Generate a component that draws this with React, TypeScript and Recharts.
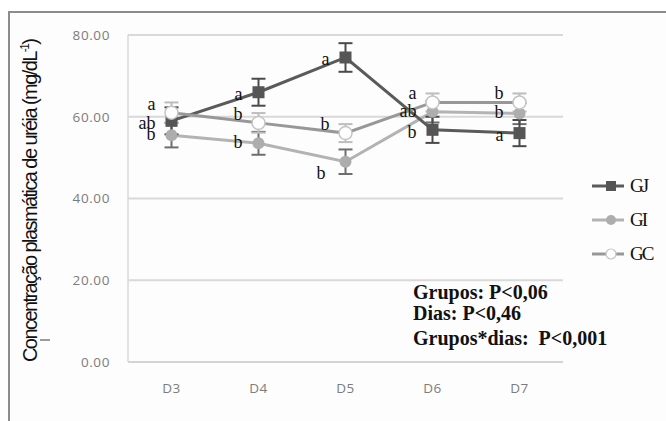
import React from "react";
import {
  LineChart,
  Line,
  XAxis,
  YAxis,
  CartesianGrid,
  ErrorBar,
} from "recharts";

// dias de coleta
const days = ["D3", "D4", "D5", "D6", "D7"];

// ureia plasmática (mg/dL) por grupo
const gj = [59, 66, 74.5, 56.8, 56];
const gi = [55.5, 53.5, 49, 61.2, 60.8];
const gc = [61, 58.5, 56, 63.5, 63.5];

// erro padrão
const gjErr = [3.3, 3.3, 3.5, 3.2, 3.2];
const giErr = [3, 2.8, 3, 2.6, 2.6];
const gcErr = [2.5, 2.4, 2.2, 2.2, 2.2];

// letras de significância
const gjLetters = ["ab", "a", "a", "b", "a"];
const giLetters = ["b", "b", "b", "ab", "b"];
const gcLetters = ["a", "b", "b", "a", "b"];

const yTicks = [0, 20, 40, 60, 80];

const stats = ["Grupos: P<0,06", "Dias: P<0,46", "Grupos*dias:  P<0,001"];

const data = days.map((d, i) => ({
  day: d,
  gj: gj[i],
  gjErr: gjErr[i],
  gi: gi[i],
  giErr: giErr[i],
  gc: gc[i],
  gcErr: gcErr[i],
}));

const SERIF = "'Liberation Serif', 'Times New Roman', serif";
const TICK = { fontSize: 13.5, fill: "#7c7c7c", fontFamily: "'Open Sans', sans-serif", letterSpacing: 0.6 };

function Letter({ x, y, text }: { x: number; y: number; text: string }) {
  return (
    <text x={x} y={y} textAnchor="end" fontFamily={SERIF} fontSize={18} fill="#111">
      {text}
    </text>
  );
}

// letterDy: deslocamento vertical da letra em relação ao ponto
function makeDot(
  kind: "square" | "filled" | "open",
  letters: string[],
  letterDy: number,
  below: number = -1,
) {
  return (p: any) => {
    const { cx, cy, index } = p;
    const isBelow = index === below;
    return (
      <g key={`${kind}-${index}`}>
        {kind === "square" && (
          <rect x={cx - 6} y={cy - 6} width={12} height={12} fill="#555555" />
        )}
        {kind === "filled" && <circle cx={cx} cy={cy} r={6} fill="#adadad" />}
        {kind === "open" && (
          <circle cx={cx} cy={cy} r={6.5} fill="#ffffff" stroke="#c4c4c4" strokeWidth={1.5} />
        )}
        <Letter
          x={isBelow ? cx - 20 : cx - 16}
          y={isBelow ? cy + 17 : cy + letterDy}
          text={letters[index]}
        />
      </g>
    );
  };
}

function LegendRow({ kind, label, color }: { kind: string; label: string; color: string }) {
  return (
    <div style={{ display: "flex", alignItems: "center", height: 34 }}>
      <svg width={36} height={14}>
        <line x1={2} y1={7} x2={34} y2={7} stroke={color} strokeWidth={3} />
        {kind === "square" && <rect x={16} y={2} width={10} height={10} fill="#555555" />}
        {kind === "filled" && <circle cx={21} cy={7} r={5} fill="#adadad" />}
        {kind === "open" && (
          <circle cx={21} cy={7} r={5} fill="#fff" stroke="#c4c4c4" strokeWidth={1.2} />
        )}
      </svg>
      <span
        style={{
          fontFamily: SERIF,
          fontSize: 19,
          letterSpacing: -2,
          marginLeft: 4,
          color: "#111",
        }}
      >
        {label}
      </span>
    </div>
  );
}

export default function App() {
  return (
    <div
      style={{
        position: "absolute",
        left: 0,
        top: 0,
        width: 666,
        height: 421,
        background: "#ffffff",
        overflow: "hidden",
      }}
    >
      <div
        style={{
          position: "absolute",
          left: 8,
          top: 11,
          width: 680,
          height: 430,
          border: "2px solid #8c8c8c",
          background: "#fdfdfd",
        }}
      />
      <div style={{ position: "absolute", left: 0, top: 0 }}>
        <LineChart
          width={666}
          height={421}
          data={data}
          margin={{ top: 35, right: 103, bottom: 29, left: 68 }}
        >
          <CartesianGrid vertical={false} stroke="#d9d9d9" strokeWidth={2} />
          <XAxis
            dataKey="day"
            axisLine={{ stroke: "#d4d4d4", strokeWidth: 2 }}
            tickLine={false}
            tickSize={0}
            tickMargin={21}
            tick={TICK}
            height={30}
            padding={{ left: 43.5, right: 43.5 }}
          />
          <YAxis
            domain={[0, 80]}
            ticks={yTicks}
            tickFormatter={(v) => Number(v).toFixed(2)}
            axisLine={{ stroke: "#d9d9d9", strokeWidth: 1.5 }}
            tickLine={false}
            tickSize={0}
            tickMargin={18}
            tick={TICK}
            width={60}
          />
          <Line
            dataKey="gi"
            stroke="#b3b3b3"
            strokeWidth={3}
            dot={makeDot("filled", giLetters, 5, 2)}
            isAnimationActive={false}
          >
            <ErrorBar dataKey="giErr" width={7} stroke="#6e6e6e" strokeWidth={2} direction="y" />
          </Line>
          <Line
            dataKey="gj"
            stroke="#5a5a5a"
            strokeWidth={3}
            dot={makeDot("square", gjLetters, 8)}
            isAnimationActive={false}
          >
            <ErrorBar dataKey="gjErr" width={7} stroke="#4a4a4a" strokeWidth={2} direction="y" />
          </Line>
          <Line
            dataKey="gc"
            stroke="#989898"
            strokeWidth={3}
            dot={makeDot("open", gcLetters, -3)}
            isAnimationActive={false}
          >
            <ErrorBar dataKey="gcErr" width={7} stroke="#bdbdbd" strokeWidth={2} direction="y" />
          </Line>
        </LineChart>
      </div>

      <svg
        width={60}
        height={421}
        style={{ position: "absolute", left: 0, top: 0 }}
      >
        <text
          transform="translate(37, 200) rotate(-90)"
          textAnchor="middle"
          fontFamily="'Liberation Sans', Arial, sans-serif"
          fontSize={20}
          fill="#111"
          textLength={324}
          lengthAdjust="spacing"
        >
          Concentração plasmática de uréia (mg/dL
          <tspan fontSize={12} dy={-8}>-1</tspan>
          <tspan dy={8}>)</tspan>
        </text>
        <line x1={40} y1={340} x2={50} y2={340} stroke="#7a7a7a" strokeWidth={1.5} />
      </svg>

      <div style={{ position: "absolute", left: 590, top: 169 }}>
        <LegendRow kind="square" label="GJ" color="#5a5a5a" />
        <LegendRow kind="filled" label="GI" color="#b3b3b3" />
        <LegendRow kind="open" label="GC" color="#989898" />
      </div>

      <div
        style={{
          position: "absolute",
          left: 413,
          top: 282,
          fontFamily: SERIF,
          fontWeight: "bold",
          fontSize: 20,
          color: "#111",
          lineHeight: "21px",
          whiteSpace: "pre",
        }}
      >
        <div>{stats[0]}</div>
        <div>{stats[1]}</div>
        <div style={{ marginTop: 4 }}>{stats[2]}</div>
      </div>
    </div>
  );
}
